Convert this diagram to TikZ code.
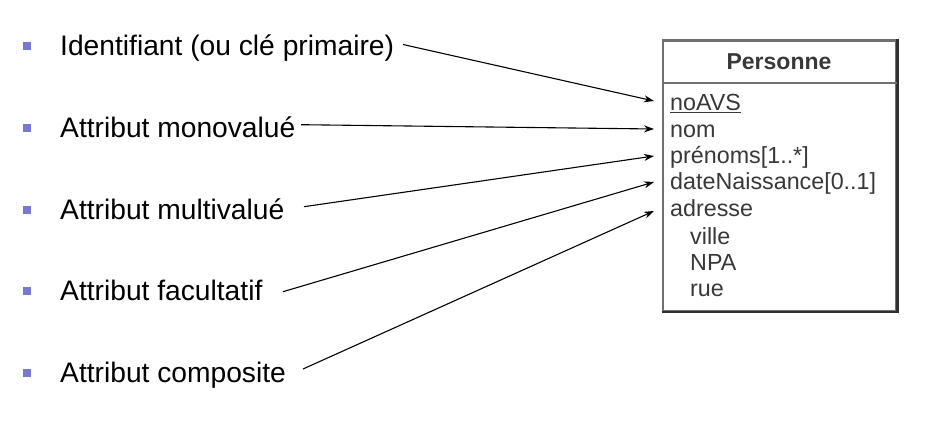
\documentclass[tikz,border=0pt]{standalone}
\usepackage{fontspec}
\setmainfont{Liberation Sans}
\usetikzlibrary{arrows.meta}
\definecolor{bulletc}{HTML}{7878D0}
\definecolor{boxc}{HTML}{707070}
\definecolor{boxd}{HTML}{303030}
\definecolor{attrc}{HTML}{383838}
\begin{document}
\begin{tikzpicture}[x=1pt,y=-1pt,
  bul/.style={fill=bulletc,minimum size=8pt,inner sep=0pt},
  lab/.style={anchor=base west,inner sep=0pt,font=\fontsize{28.2}{30}\selectfont},
  attr/.style={anchor=base west,inner sep=0pt,text=attrc,font=\fontsize{23.3}{24}\selectfont},
  arr/.style={-{Stealth[length=10pt,width=7pt]},line width=1.1pt,black}]
\useasboundingbox (0,0) rectangle (939,425);
% bullets and labels
\node[bul] (b1) at (27,46) {};
\node[bul] (b2) at (27,128) {};
\node[bul] (b3) at (27,210) {};
\node[bul] (b4) at (27,291) {};
\node[bul] (b5) at (27,373) {};
\node[lab] (l1) at (60,56) {Identifiant (ou clé primaire)};
\node[lab] (l2) at (60,137) {Attribut monovalué};
\node[lab] (l3) at (60,219) {Attribut multivalué};
\node[lab] (l4) at (60,300) {Attribut facultatif};
\node[lab] (l5) at (60,382) {Attribut composite};
% class box
\node[draw=boxc,line width=2.4pt,minimum width=233pt,minimum height=270pt,inner sep=0pt,anchor=north west] (cls) at (662,39.5) {};
\draw[boxd,line width=2.4pt] (cls.south west) -- (cls.south east) -- (cls.north east);
\draw[boxc,line width=2.4pt] (cls.west |- 0,83.3) -- (cls.east |- 0,83.3);
\node[anchor=base,inner sep=0pt,text=attrc,font=\fontsize{23}{24}\selectfont\bfseries] (hd) at (779,69.3) {Personne};
\node[attr] (a1) at (670,111) {\underline{noAVS}};
\node[attr] (a2) at (670,137) {nom};
\node[attr] (a3) at (670,163) {prénoms[1..*]};
\node[attr] (a4) at (670,189.5) {dateNaissance[0..1]};
\node[attr] (a5) at (670,216.5) {adresse};
\node[attr] (a6) at (690,244) {ville};
\node[attr] (a7) at (690,270) {NPA};
\node[attr] (a8) at (690,296.5) {rue};
% connectors
\coordinate (s1) at (403,44.5);
\coordinate (s2) at (301,124.7);
\coordinate (s3) at (304,206.7);
\coordinate (s4) at (283,291.7);
\coordinate (s5) at (303,369);
\coordinate (e1) at (654,101);
\coordinate (e2) at (654,129);
\coordinate (e3) at (654,156);
\coordinate (e4) at (654,182);
\coordinate (e5) at (654,211);
\draw[arr] (s1) -- (e1);
\draw[arr] (s2) -- (e2);
\draw[arr] (s3) -- (e3);
\draw[arr] (s4) -- (e4);
\draw[arr] (s5) -- (e5);
\end{tikzpicture}
\end{document}
